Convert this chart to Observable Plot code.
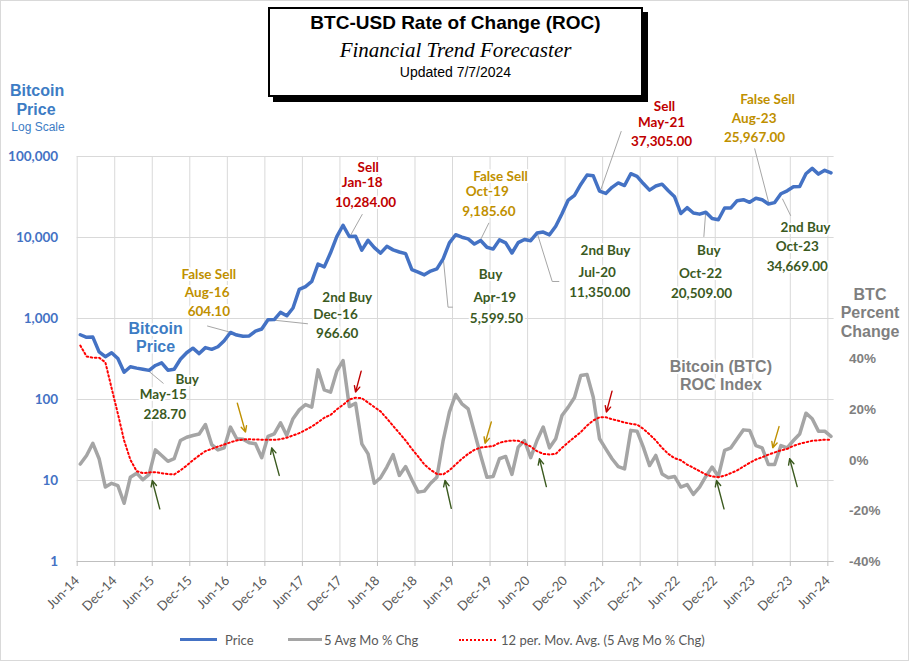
<!DOCTYPE html>
<html><head><meta charset="utf-8">
<script src="https://cdn.jsdelivr.net/npm/d3@7"></script>
<script src="https://cdn.jsdelivr.net/npm/@observablehq/plot@0.6"></script>
<style>
body{margin:0;background:#fff;}
#wrap{position:relative;width:911px;height:663px;overflow:hidden;font-family:"Liberation Sans",Arial,sans-serif;background:#fff;}
#frame{position:absolute;left:0;top:0;width:907px;height:659px;border:1px solid #d9d9d9;pointer-events:none;}
#chart{position:absolute;left:0;top:0;}
#titlebox{position:absolute;left:268px;top:7px;width:371px;height:86px;border:2px solid #000;background:#fff;box-shadow:5px 5px 0 #000;text-align:center;}
#titlebox div{position:absolute;left:0;right:0;line-height:1;}
#titlebox .t1{font:bold 19px "Liberation Sans",Arial,sans-serif;color:#000;}
#titlebox .t2{font:italic 21px "Liberation Serif","DejaVu Serif",serif;color:#000;}
#titlebox .t3{font:14px "Liberation Sans",Arial,sans-serif;color:#000;}
.lab{position:absolute;white-space:nowrap;text-align:center;}
.leg{position:absolute;top:632px;font:13px Lato,"Open Sans",sans-serif;color:#595959;white-space:nowrap;}
.sw{position:absolute;}
</style></head>
<body><div id="wrap">
<div id="chart"></div>
<div class="lab" style="left:10px;top:82px;width:52px;font:bold 16px 'Liberation Sans',Arial;color:#3d7cc4;">Bitcoin</div>
<div class="lab" style="left:10px;top:101px;width:52px;font:bold 16px 'Liberation Sans',Arial;color:#3d7cc4;">Price</div>
<div class="lab" style="left:6px;top:120px;width:64px;font:12px 'Liberation Sans',Arial;color:#3d7cc4;">Log Scale</div>
<div class="lab" style="left:836px;top:286px;width:68px;font:bold 16px 'Liberation Sans',Arial;color:#7f7f7f;">BTC</div>
<div class="lab" style="left:836px;top:304px;width:68px;font:bold 16px 'Liberation Sans',Arial;color:#7f7f7f;">Percent</div>
<div class="lab" style="left:836px;top:323px;width:68px;font:bold 16px 'Liberation Sans',Arial;color:#7f7f7f;">Change</div>
<div id="titlebox">
  <div class="t1" style="top:3px">BTC-USD Rate of Change (ROC)</div>
  <div class="t2" style="top:29px">Financial Trend Forecaster</div>
  <div class="t3" style="top:55px">Updated 7/7/2024</div>
</div>
<div class="sw" style="left:180px;top:638px;width:37px;height:3px;background:#4472C4;"></div>
<div class="leg" style="left:225px;">Price</div>
<div class="sw" style="left:288px;top:638px;width:34px;height:3px;background:#A5A5A5;"></div>
<div class="leg" style="left:324px;">5 Avg Mo % Chg</div>
<div class="sw" style="left:459px;top:639px;width:37px;height:0;border-top:2px dotted #FF0000;"></div>
<div class="leg" style="left:501px;">12 per. Mov. Avg. (5 Avg Mo % Chg)</div>
<div id="frame"></div>
</div>
<script>
// ---- data (monthly, Jun-14 .. Jun-24) ----
const price = [
  630, 586, 590, 387, 338, 378, 320,
  217, 254, 244, 236, 229, 263, 284, 230, 236, 314, 378, 430,
  369, 437, 416, 448, 531, 673, 624, 604, 609, 698, 742, 967,
  970, 1190, 1080, 1348, 2286, 2480, 2875, 4703, 4338, 6468, 10233, 14156,
  10284, 10397, 6973, 9240, 7494, 6404, 7780, 7037, 6625, 6317, 4017, 3742,
  3457, 3854, 4105, 5450, 8574, 10817, 10085, 9630, 8293, 9186, 7569, 7194,
  9350, 8599, 6438, 8658, 9461, 9137, 11350, 11680, 10784, 13781, 19625, 29001,
  33114, 45137, 58918, 57750, 37305, 35041, 41626, 47166, 43791, 61318, 57005, 46306,
  38483, 43194, 45538, 37714, 31792, 19785, 23336, 20050, 19432, 20509, 17168, 16548,
  23139, 23147, 28478, 29268, 27219, 30477, 29230, 25967, 26968, 34669, 37713, 42265,
  42582, 61198, 71333, 60636, 67491, 62678
];
const roc = [
  -1.5, 1.9, 6.7, 0.6, -10.6, -9.1, -10.0,
  -17.0, -6.7, -5.1, -7.7, -5.6, 4.1, 1.9, -0.4, 0.6, 7.8, 9.1, 9.8,
  10.4, 14.1, 6.2, 4.1, 4.9, 13.1, 8.5, 8.3, 6.9, 6.5, 1.0, 9.4,
  10.4, 14.8, 9.8, 16.4, 19.9, 22.0, 21.0, 35.7, 27.8, 26.9, 35.2, 39.4,
  21.2, 22.5, 6.5, 2.5, -9.1, -6.9, -2.7, 2.2, -6.0, -2.5, -7.7, -12.6,
  -12.2, -9.1, -6.7, 7.8, 19.0, 26.0, 22.3, 20.3, 11.1, 1.9, -6.7, -6.4,
  0.6, 1.5, -5.6, 5.2, 7.8, 1.0, 7.8, 13.1, 4.9, 8.5, 17.7, 21.0,
  24.8, 33.5, 33.9, 24.9, 8.5, 4.5, 0.6, -2.5, -3.4, 11.8, 11.5, 5.2,
  -2.1, 1.9, -5.4, -6.9, -6.4, -10.6, -9.6, -13.5, -10.6, -6.4, -2.7, -6.4,
  3.9, 4.9, 8.5, 12.0, 11.8, 5.8, 4.9, -1.7, -1.7, 5.8, 4.9, 7.8,
  10.4, 18.6, 16.4, 11.5, 11.5, 9.4
];
const rocMA = [
  45.3, 41.0, 40.5, 40.5, 38.7, 28.5, 18.4,
  7.8, 0.2, -4.3, -5.1, -4.8, -4.7, -5.1, -5.5, -5.6, -4.0, -2.1, 0.0,
  1.9, 3.6, 4.5, 5.4, 6.2, 7.1, 7.8, 8.2, 8.3, 8.2, 8.1, 8.1,
  8.1, 8.3, 8.9, 9.8, 10.7, 12.0, 13.3, 15.0, 16.8, 17.9, 20.1, 21.9,
  24.0, 24.7, 24.5, 22.8, 21.0, 19.3, 16.5, 13.6, 10.7, 7.8, 4.5, 1.5,
  -1.7, -3.8, -5.4, -5.6, -4.0, -1.7, 0.6, 2.5, 4.1, 5.0, 5.3, 5.6,
  6.9, 7.5, 7.8, 7.7, 6.7, 5.4, 3.6, 2.5, 2.3, 2.5, 4.9, 7.1,
  9.1, 11.1, 13.7, 15.7, 17.0, 17.0, 16.2, 15.6, 14.9, 14.4, 14.1, 12.4,
  10.2, 7.8, 4.9, 2.5, 0.8, 0.0, -1.7, -3.0, -4.3, -5.6, -6.4, -6.7,
  -6.1, -5.1, -4.0, -2.5, -1.0, 0.3, 1.2, 2.2, 3.1, 3.9, 4.5, 5.7,
  6.5, 7.1, 7.7, 7.9, 8.1, 8.1
];
const xLabels = ["Jun-14","Dec-14","Jun-15","Dec-15","Jun-16","Dec-16","Jun-17","Dec-17","Jun-18","Dec-18",
  "Jun-19","Dec-19","Jun-20","Dec-20","Jun-21","Dec-21","Jun-22","Dec-22","Jun-23","Dec-23","Jun-24"];
const priceTicks = [1, 10, 100, 1000, 10000, 100000];
const pctTicks = [-40, -20, 0, 20, 40];

// annotations: text, month position, log10(price) level, kind
const annText = ["Buy","May-15","228.70","False Sell","Aug-16","604.10","2nd Buy","Dec-16","966.60",
  "Sell","Jan-18","10,284.00","False Sell","Oct-19","9,185.60","Buy","Apr-19","5,599.50",
  "2nd Buy","Jul-20","11,350.00","Sell","May-21","37,305.00","Buy","Oct-22","20,509.00",
  "False Sell","Aug-23","25,967.00","2nd Buy","Oct-23","34,669.00"];
const annMonth = [17.59,13.75,14.0,21.04,20.78,21.04,43.17,41.29,41.57,
  46.52,45.56,46.09,67.67,65.55,65.80,66.08,66.76,67.03,
  84.46,83.13,83.55,93.89,93.41,93.41,100.98,99.65,99.81,
  110.36,108.22,108.28,116.43,115.11,115.11];
const annLog = [2.243,2.062,1.815,3.543,3.325,3.086,3.263,3.049,2.811,
  4.858,4.683,4.428,4.753,4.568,4.325,3.540,3.251,3.004,
  3.840,3.564,3.317,5.609,5.416,5.177,3.840,3.552,3.312,
  5.700,5.473,5.231,4.120,3.889,3.642];
const annKind = ["buy","buy","buy","false","false","false","buy","buy","buy",
  "sell","sell","sell","false","false","false","buy","buy","buy",
  "buy","buy","buy","sell","sell","sell","buy","buy","buy",
  "false","false","false","buy","buy","buy"];

// leader lines from labels to the price line
const leaderId = [1,1,2,2,3,3,4,4,5,5,5,6,6,7,7,7,8,8,9,9,10,10,11,11];
const leaderMonth = [11.45,13.75,20.83,26.11,30.90,36.82,43.69,45.56,58.56,59.28,60.0,64.48,65.80,
  73.54,75.94,77.0,83.66,86.96,100.45,100.18,110.57,108.31,112.76,114.04];
const leaderLog = [2.349,2.201,2.907,2.796,2.984,2.935,4.025,4.284,3.716,3.140,3.140,3.972,4.177,
  4.053,3.457,3.457,4.580,5.309,4.293,4.012,4.423,5.095,4.475,4.272];

// signal arrows on the ROC panel (month, percent)
const arrKind = ["buy","false","buy","sell","buy","false","buy","sell","buy","false","buy"];
const arrM1 = [13.2,25.6,32.3,45.4,59.8,66.2,75.0,85.5,103.4,112.2,115.1];
const arrP1 = [-19.2,22.5,-6.0,35.2,-19.0,15.1,-10.4,27.3,-19.2,13.3,-10.4];
const arrM2 = [12.0,26.9,31.1,44.5,58.8,65.2,73.9,84.6,102.2,111.2,113.9];
const arrP2 = [-8.0,11.1,4.9,26.9,-8.0,6.7,0.6,19.0,-8.0,4.9,0.6];

// ---- build ----
const kindColor = {buy:"#3B5A1F", false:"#BF9000", sell:"#C00000"};
const toY = p => Math.pow(10, (p + 40) / 32);   // percent axis mapped onto the log price frame
const rows = price.map((p, i) => ({m: i + 0.5, price: p, roc: roc[i], ma: rocMA[i]}));
const ann = annText.map((t, i) => ({t, m: annMonth[i], v: Math.pow(10, annLog[i]), c: kindColor[annKind[i]]}));
const leaders = leaderId.map((id, i) => ({id, m: leaderMonth[i], v: Math.pow(10, leaderLog[i])}));
const arrows = arrKind.map((k, i) => ({c: kindColor[k], x1: arrM1[i], y1: toY(arrP1[i]), x2: arrM2[i], y2: toY(arrP2[i])}));
const xTickPos = xLabels.map((_, i) => i * 6);
const pctRows = pctTicks.map(p => ({v: toY(p), t: p + "%"}));
const inside = [
  {t: "Bitcoin", m: 12.53, v: Math.pow(10, 2.873), c: "#3d7cc4"},
  {t: "Price", m: 12.53, v: Math.pow(10, 2.654), c: "#3d7cc4"},
  {t: "Bitcoin (BTC)", m: 102.9, v: Math.pow(10, 2.407), c: "#7f7f7f"},
  {t: "ROC Index", m: 102.9, v: Math.pow(10, 2.185), c: "#7f7f7f"}
];

const chart = Plot.plot({
  width: 911, height: 663,
  marginLeft: 76.7, marginRight: 77.4, marginTop: 156, marginBottom: 102,
  x: {type: "linear", domain: [0, 121]},
  y: {type: "log", domain: [1, 100000]},
  style: {background: "transparent", fontFamily: "Lato, sans-serif"},
  marks: [
    Plot.gridY(priceTicks, {stroke: "#d9d9d9", strokeOpacity: 1}),
    Plot.gridX(xTickPos, {stroke: "#d9d9d9", strokeOpacity: 1}),
    Plot.ruleY([1], {stroke: "#bfbfbf"}),
    Plot.axisY(priceTicks, {anchor: "left", tickSize: 0, tickPadding: 19, tickFormat: d3.format(","),
      fill: "#4472C4", fontWeight: "bold", fontSize: 13.5, label: null}),
    Plot.text(pctRows, {y: "v", text: "t", frameAnchor: "right", textAnchor: "start", dx: 15,
      fill: "#7f7f7f", fontWeight: "bold", fontSize: 13.5, fontFamily: "Liberation Sans, Arial, sans-serif"}),
    Plot.axisX(xTickPos, {anchor: "bottom", tickSize: 5, stroke: "#bfbfbf", tickFormat: () => "", label: null}),
    Plot.axisX(xTickPos, {anchor: "bottom", tickSize: 0, tickPadding: 17, tickRotate: -45,
      tickFormat: d => xLabels[Math.round(d / 6)], fill: "#595959", fontSize: 13, label: null}),
    Plot.line(leaders, {x: "m", y: "v", z: "id", stroke: "#a6a6a6", strokeWidth: 1}),
    Plot.line(rows, {x: "m", y: "price", stroke: "#4472C4", strokeWidth: 3.5, strokeLinejoin: "round"}),
    Plot.line(rows, {x: "m", y: d => toY(d.roc), stroke: "#A5A5A5", strokeWidth: 3.5, strokeLinejoin: "round"}),
    Plot.line(rows, {x: "m", y: d => toY(d.ma), stroke: "#FF0000", strokeWidth: 2, strokeDasharray: "1.6 2.6"}),
    Plot.arrow(arrows, {x1: "x1", y1: "y1", x2: "x2", y2: "y2", stroke: "c", strokeWidth: 1.4, headLength: 7, headAngle: 50}),
    Plot.text(inside, {x: "m", y: "v", text: "t", fill: "c", fontSize: 16, fontWeight: "bold",
      fontFamily: "Liberation Sans, Arial, sans-serif", stroke: "white", strokeWidth: 4}),
    Plot.text(ann, {x: "m", y: "v", text: "t", fill: "c", fontSize: 13.5, fontWeight: "bold",
      fontFamily: "Lato, sans-serif", stroke: "white", strokeWidth: 4})
  ]
});
document.getElementById("chart").appendChild(chart);
</script>
</body></html>
